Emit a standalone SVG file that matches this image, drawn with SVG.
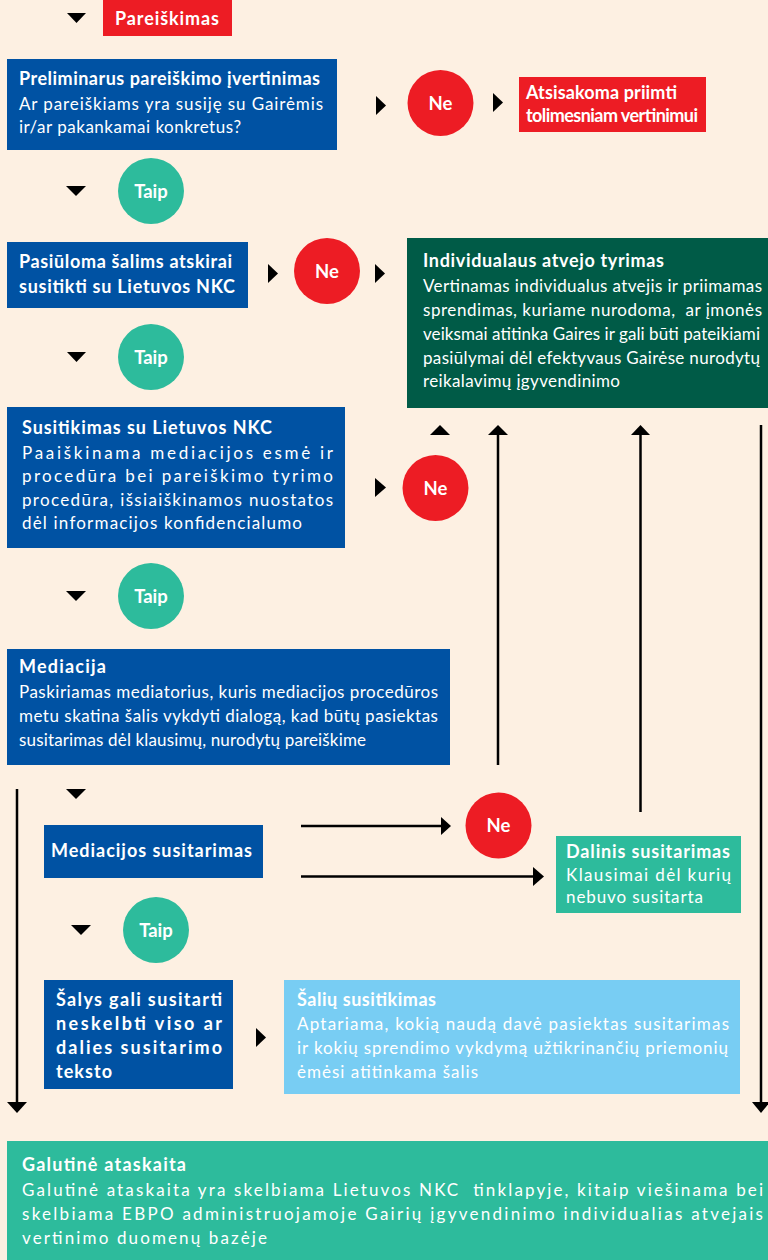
<svg xmlns="http://www.w3.org/2000/svg" width="768" height="1260" viewBox="0 0 768 1260">
<style>
.blue{fill:#0052a3}.red{fill:#ed1c24}.teal{fill:#2dbb9c}.dg{fill:#005b47}.lb{fill:#78cdf3}
text{font-family:Lato,"Noto Sans","DejaVu Sans",sans-serif;fill:#ffffff;font-size:17px}
.b{font-weight:700;font-size:18px}.c{text-anchor:middle;font-size:18.5px}
.ln{stroke:#000;stroke-width:2.5;fill:none}
.tri{fill:#000}
</style>
<rect width="768" height="1260" fill="#fdf0e2"/>

<g id="connectors">
  <polygon class="tri" points="67,13 86,13 76.5,23"/>
  <polygon class="tri" points="376,96 386,105.5 376,115"/>
  <polygon class="tri" points="493,93 503,102.5 493,112"/>
  <polygon class="tri" points="66,186 86,186 76,196"/>
  <polygon class="tri" points="268,264 278,273.5 268,283"/>
  <polygon class="tri" points="375,264 385,273.5 375,283"/>
  <polygon class="tri" points="67,352 86,352 76.5,362"/>
  <polygon class="tri" points="375,478 386,487.5 375,497"/>
  <polygon class="tri" points="430,435 450,435 440,425"/>
  <polygon class="tri" points="66,591 86,591 76,601"/>
  <polygon class="tri" points="66,789 86,789 76,799"/>
  <polygon class="tri" points="71,925 91,925 81,935"/>
  <polygon class="tri" points="256,1028 266,1037.5 256,1047"/>
  <line class="ln" x1="498" y1="765" x2="498" y2="434"/>
  <polygon class="tri" points="488,435 508,435 498,425"/>
  <line class="ln" x1="640.5" y1="812" x2="640.5" y2="434"/>
  <polygon class="tri" points="631,435 650,435 640.5,425"/>
  <line class="ln" x1="761" y1="425" x2="761" y2="1103"/>
  <polygon class="tri" points="752,1102 770,1102 761,1113"/>
  <line class="ln" x1="17" y1="789" x2="17" y2="1103"/>
  <polygon class="tri" points="7,1102 27,1102 17,1113"/>
  <line class="ln" x1="301" y1="826" x2="442" y2="826"/>
  <polygon class="tri" points="441,817 451,826 441,835"/>
  <line class="ln" x1="301" y1="876.5" x2="534" y2="876.5"/>
  <polygon class="tri" points="533,867 544,876.5 533,886"/>
</g>

<g id="pareiskimas">
  <rect class="red" x="103" y="0" width="129" height="36"/>
  <text class="b" x="115" y="25" textLength="104" lengthAdjust="spacing">Pareiškimas</text>
</g>

<g id="preliminarus">
  <rect class="blue" x="7" y="59" width="330" height="91"/>
  <text class="b" x="19" y="85" textLength="301" lengthAdjust="spacing">Preliminarus pareiškimo įvertinimas</text>
  <text x="19" y="110" textLength="304" lengthAdjust="spacing">Ar pareiškiams yra susiję su Gairėmis</text>
  <text x="19" y="133" textLength="222" lengthAdjust="spacing">ir/ar pakankamai konkretus?</text>
</g>

<g id="ne1">
  <circle class="red" cx="440.5" cy="103" r="33"/>
  <text class="b c" x="440.5" y="109.5">Ne</text>
</g>

<g id="atsisakoma">
  <rect class="red" x="519" y="77" width="187" height="55"/>
  <text class="b" x="526" y="99" textLength="151" lengthAdjust="spacing">Atsisakoma priimti</text>
  <text class="b" x="526" y="122" textLength="172" lengthAdjust="spacing">tolimesniam vertinimui</text>
</g>

<g id="taip1">
  <circle class="teal" cx="151" cy="191" r="33"/>
  <text class="b c" x="151" y="197.5">Taip</text>
</g>

<g id="pasiuloma">
  <rect class="blue" x="7" y="242" width="241" height="66"/>
  <text class="b" x="19" y="268" textLength="213" lengthAdjust="spacing">Pasiūloma šalims atskirai</text>
  <text class="b" x="19" y="293" textLength="216" lengthAdjust="spacing">susitikti su Lietuvos NKC</text>
</g>

<g id="ne2">
  <circle class="red" cx="327" cy="271" r="33"/>
  <text class="b c" x="327" y="277.5">Ne</text>
</g>

<g id="individualaus">
  <rect class="dg" x="407" y="238" width="361" height="170"/>
  <text class="b" x="423" y="267" textLength="241" lengthAdjust="spacing">Individualaus atvejo tyrimas</text>
  <text x="423" y="292" textLength="339" lengthAdjust="spacing">Vertinamas individualus atvejis ir priimamas</text>
  <text x="423" y="316" textLength="339" lengthAdjust="spacing" xml:space="preserve">sprendimas, kuriame nurodoma,  ar įmonės</text>
  <text x="423" y="340" textLength="337" lengthAdjust="spacing">veiksmai atitinka Gaires ir gali būti pateikiami</text>
  <text x="423" y="364" textLength="337" lengthAdjust="spacing">pasiūlymai dėl efektyvaus Gairėse nurodytų</text>
  <text x="423" y="387" textLength="197" lengthAdjust="spacing">reikalavimų įgyvendinimo</text>
</g>

<g id="taip2">
  <circle class="teal" cx="151" cy="357" r="33"/>
  <text class="b c" x="151" y="363.5">Taip</text>
</g>

<g id="susitikimas">
  <rect class="blue" x="7" y="407" width="338" height="141"/>
  <text class="b" x="22" y="434" textLength="250" lengthAdjust="spacing">Susitikimas su Lietuvos NKC</text>
  <text x="22" y="459" textLength="311" lengthAdjust="spacing">Paaiškinama mediacijos esmė ir</text>
  <text x="22" y="482" textLength="311" lengthAdjust="spacing">procedūra bei pareiškimo tyrimo</text>
  <text x="22" y="506" textLength="311" lengthAdjust="spacing">procedūra, išsiaiškinamos nuostatos</text>
  <text x="22" y="529" textLength="280" lengthAdjust="spacing">dėl informacijos konfidencialumo</text>
</g>

<g id="ne3">
  <circle class="red" cx="435.5" cy="488" r="33"/>
  <text class="b c" x="435.5" y="494.5">Ne</text>
</g>

<g id="taip3">
  <circle class="teal" cx="151" cy="596" r="33"/>
  <text class="b c" x="151" y="602.5">Taip</text>
</g>

<g id="mediacija">
  <rect class="blue" x="7" y="649" width="443" height="116"/>
  <text class="b" x="19" y="673" textLength="87" lengthAdjust="spacing">Mediacija</text>
  <text x="19" y="698" textLength="419" lengthAdjust="spacing">Paskiriamas mediatorius, kuris mediacijos procedūros</text>
  <text x="19" y="722" textLength="419" lengthAdjust="spacing">metu skatina šalis vykdyti dialogą, kad būtų pasiektas</text>
  <text x="19" y="746" textLength="347" lengthAdjust="spacing">susitarimas dėl klausimų, nurodytų pareiškime</text>
</g>

<g id="mediacijos-susitarimas">
  <rect class="blue" x="44" y="825" width="219" height="53"/>
  <text class="b" x="51" y="857" textLength="201" lengthAdjust="spacing">Mediacijos susitarimas</text>
</g>

<g id="ne4">
  <circle class="red" cx="498.5" cy="825.5" r="33"/>
  <text class="b c" x="498.5" y="832">Ne</text>
</g>

<g id="dalinis">
  <rect class="teal" x="556" y="836" width="185" height="77"/>
  <text class="b" x="566" y="858" textLength="164" lengthAdjust="spacing">Dalinis susitarimas</text>
  <text x="566" y="881" textLength="165" lengthAdjust="spacing">Klausimai dėl kurių</text>
  <text x="566" y="903" textLength="137" lengthAdjust="spacing">nebuvo susitarta</text>
</g>

<g id="taip4">
  <circle class="teal" cx="156" cy="930" r="33"/>
  <text class="b c" x="156" y="936.5">Taip</text>
</g>

<g id="salys">
  <rect class="blue" x="44" y="980" width="189" height="109"/>
  <text class="b" x="56" y="1006" textLength="166" lengthAdjust="spacing">Šalys gali susitarti</text>
  <text class="b" x="56" y="1030" textLength="166" lengthAdjust="spacing">neskelbti viso ar</text>
  <text class="b" x="56" y="1054" textLength="166" lengthAdjust="spacing">dalies susitarimo</text>
  <text class="b" x="56" y="1078" textLength="56" lengthAdjust="spacing">teksto</text>
</g>

<g id="saliu-susitikimas">
  <rect class="lb" x="284" y="980" width="456" height="114"/>
  <text class="b" x="297" y="1006" textLength="139" lengthAdjust="spacing">Šalių susitikimas</text>
  <text x="297" y="1030" textLength="432" lengthAdjust="spacing">Aptariama, kokią naudą davė pasiektas susitarimas</text>
  <text x="297" y="1054" textLength="431" lengthAdjust="spacing">ir kokių sprendimo vykdymą užtikrinančių priemonių</text>
  <text x="297" y="1078" textLength="181" lengthAdjust="spacing">ėmėsi atitinkama šalis</text>
</g>

<g id="galutine">
  <rect class="teal" x="7" y="1141" width="761" height="119"/>
  <text class="b" x="22" y="1171" textLength="164" lengthAdjust="spacing">Galutinė ataskaita</text>
  <text x="22" y="1196" textLength="741" lengthAdjust="spacing" xml:space="preserve">Galutinė ataskaita yra skelbiama Lietuvos NKC  tinklapyje, kitaip viešinama bei</text>
  <text x="22" y="1220" textLength="741" lengthAdjust="spacing">skelbiama EBPO administruojamoje Gairių įgyvendinimo individualias atvejais</text>
  <text x="22" y="1244" textLength="245" lengthAdjust="spacing">vertinimo duomenų bazėje</text>
</g>
</svg>
